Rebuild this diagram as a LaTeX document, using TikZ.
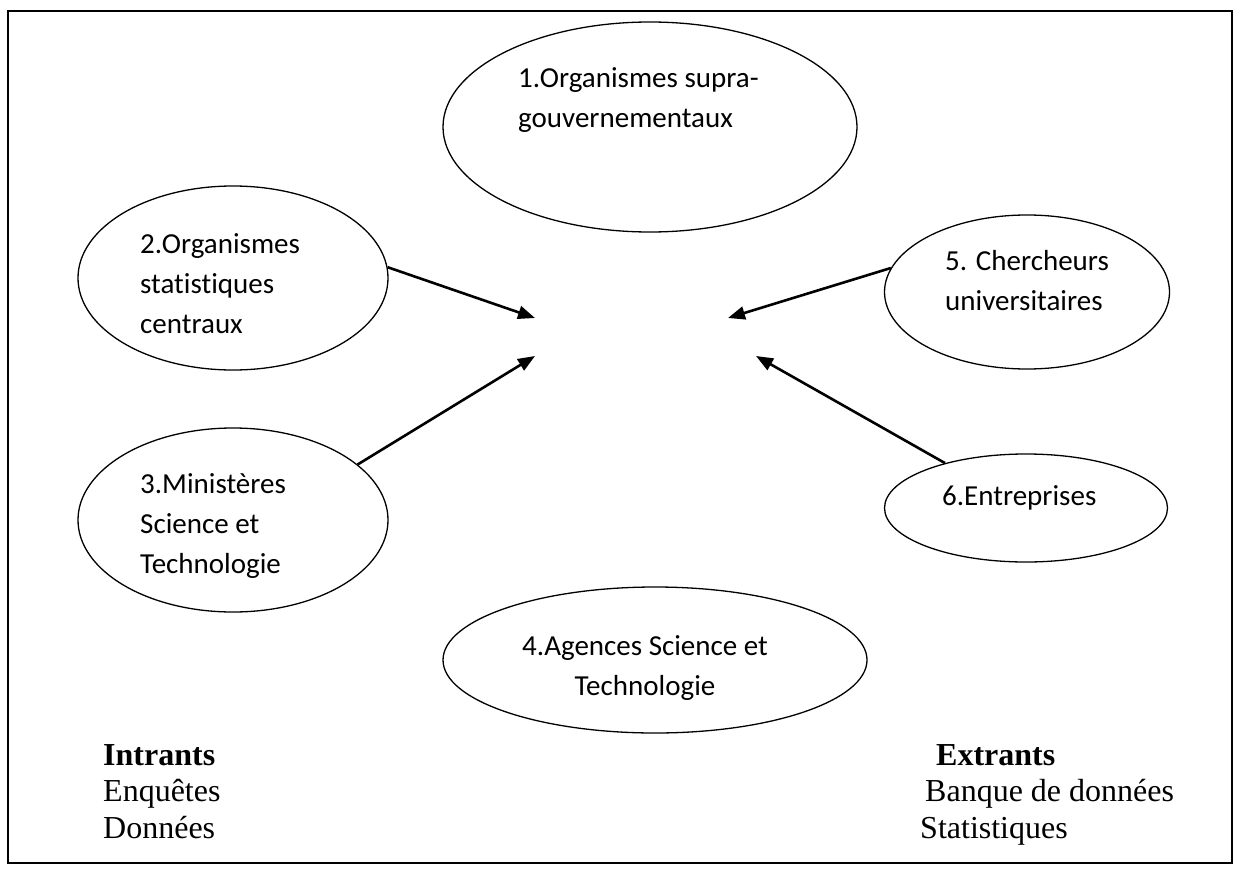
\documentclass[tikz,border=0pt]{standalone}
\usepackage{fontspec}
\setmainfont{Liberation Serif}
\newfontfamily\calib[Ligatures=NoCommon]{Carlito}
\usetikzlibrary{shapes.geometric,arrows.meta}
\begin{document}
\begin{tikzpicture}[x=1pt,y=-1pt,
  bubble/.style={ellipse,draw,line width=1.3pt,inner sep=0pt},
  lbl/.style={font=\calib\fontsize{29}{40}\selectfont,inner sep=0pt,anchor=base west,align=left},
  foot/.style={font=\fontsize{32}{36}\selectfont,inner sep=0pt,anchor=base west},
  feed/.style={line width=2.6pt,-{Triangle[length=17pt,width=13pt]}}]
\useasboundingbox (0,0) rectangle (1238,872);
\draw[line width=2pt] (8,11) rectangle (1232,863);
% ellipses
\node[bubble,minimum width=414pt,minimum height=210pt] (e1) at (650,127) {};
\node[bubble,minimum width=310pt,minimum height=184pt] (e2) at (233,278) {};
\node[bubble,minimum width=310pt,minimum height=184pt] (e3) at (233,520) {};
\node[bubble,minimum width=424pt,minimum height=146pt] (e4) at (655,660) {};
\node[bubble,minimum width=285pt,minimum height=154pt] (e5) at (1027,292) {};
\node[bubble,minimum width=283pt,minimum height=108pt] (e6) at (1026,508) {};
% labels (anchored at the baseline of their last line)
\node[lbl] (t1) at (518,128) {1.Organismes supra-\\gouvernementaux};
\node[lbl] (t2) at (140,333) {2.Organismes\\statistiques\\centraux};
\node[lbl] (t3) at (140,573) {3.Ministères\\Science et\\Technologie};
\node[lbl,anchor=base,align=center] (t4) at (645,695) {4.Agences Science et\\Technologie};
\node[lbl] (t5) at (945,310) {5. Chercheurs\\universitaires};
\node[lbl] (t6) at (942,505) {6.Entreprises};
% arrow tips
\coordinate (p2) at (535,318);
\coordinate (p3) at (535,356);
\coordinate (p5) at (728,318);
\coordinate (p6) at (756,356);
\draw[feed] (e2.4) -- (p2);
\draw[feed] (e3.24) -- (p3);
\draw[feed] (e5.170) -- (p5);
\draw[feed] (e6.151) -- (p6);
% footer
\node[foot] (in) at (103,765) {\textbf{Intrants}};
\node[foot] (in1) at (103,801) {Enquêtes};
\node[foot] (in2) at (103,838) {Données};
\node[foot] (out) at (936,765) {\textbf{Extrants}};
\node[foot] (out1) at (925,801) {Banque de données};
\node[foot] (out2) at (920,838) {Statistiques};
\end{tikzpicture}
\end{document}
